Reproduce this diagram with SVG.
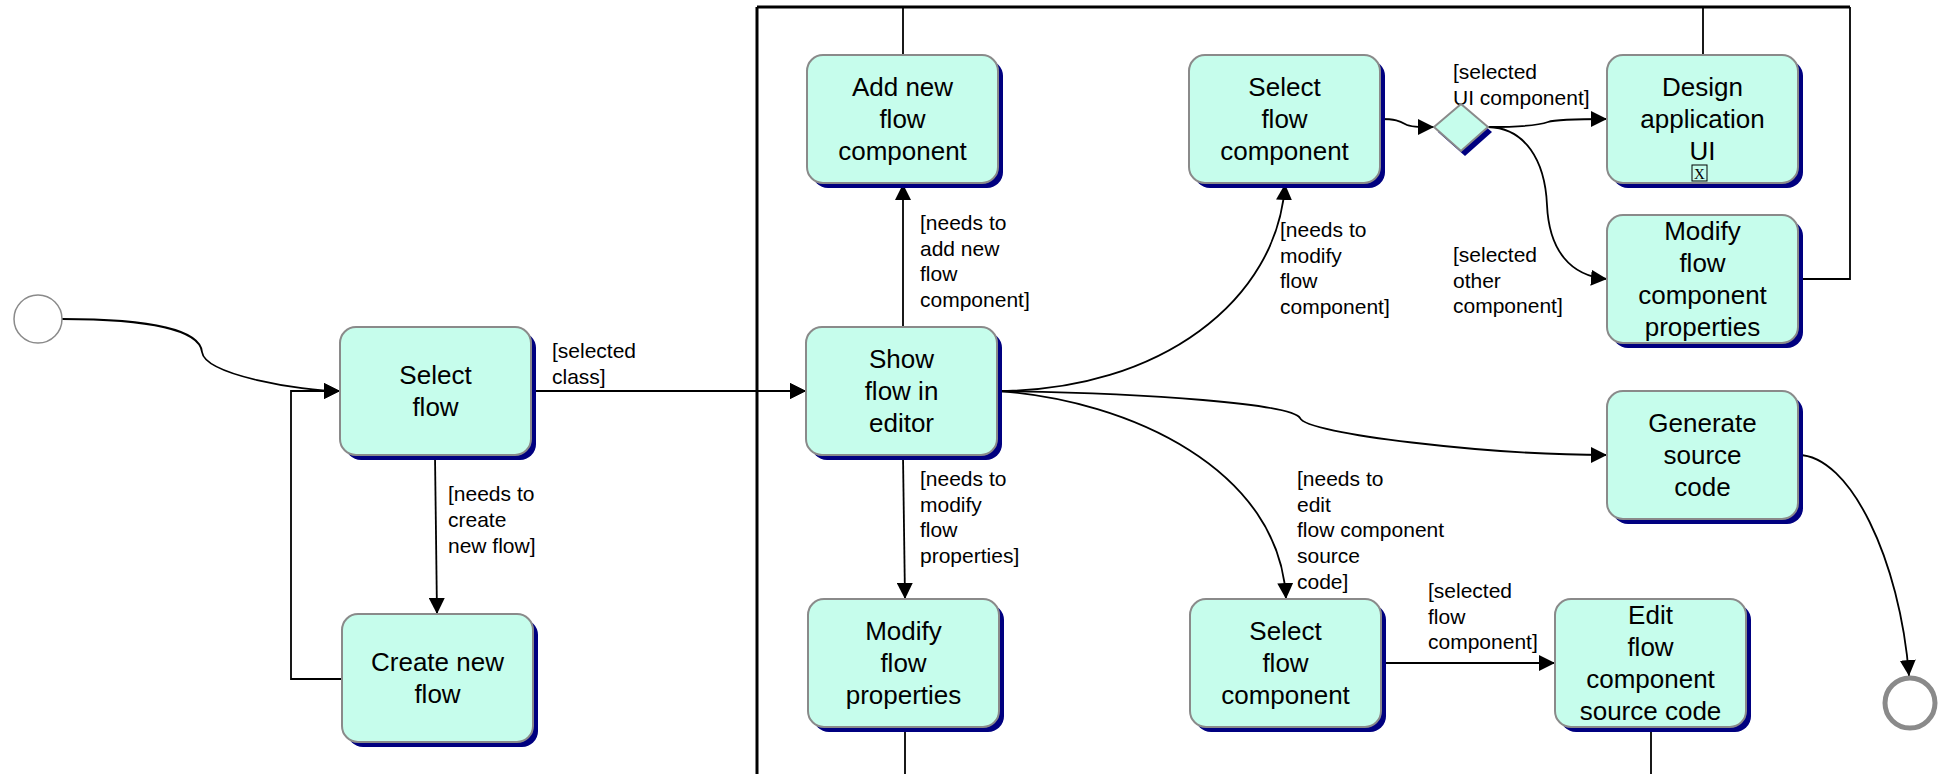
<svg xmlns="http://www.w3.org/2000/svg" width="1944" height="774" viewBox="0 0 1944 774">
<style>
.box{fill:#C6FDEC;stroke:#8A8A8A;stroke-width:2}
.shadow{fill:#000080}
.nt{font-family:"Liberation Sans",Arial,sans-serif;font-size:26px;text-anchor:middle;fill:#000}
.lb{font-family:"Liberation Sans",Arial,sans-serif;font-size:21px;fill:#000}
.edge{fill:none;stroke:#000;stroke-width:1.8}
.thick{fill:none;stroke:#000;stroke-width:3}
</style>
<defs>
<marker id="arr" markerUnits="userSpaceOnUse" markerWidth="16" markerHeight="16" refX="16" refY="8" orient="auto">
<path d="M0,0 L16,8 L0,16 Z" fill="#000"/>
</marker>
</defs>
<rect width="1944" height="774" fill="#fff"/>

<g id="connectors">
<path class="edge" d="M 62 319 C 150 319, 200 330, 202 352 C 205 375, 300 391, 340 391" marker-end="url(#arr)"/>
<path class="edge" d="M 435 456 L 437 614" marker-end="url(#arr)"/>
<path class="edge" d="M 342 679 L 291 679 L 291 391 L 340 391" marker-end="url(#arr)"/>
<path class="edge" d="M 531 391 L 806 391" marker-end="url(#arr)"/>
<path class="edge" d="M 903 327 L 903 184" marker-end="url(#arr)"/>
<path class="edge" d="M 903 456 L 905 599" marker-end="url(#arr)"/>
<path class="edge" d="M 997 391 C 1160 391, 1278 300, 1285 184" marker-end="url(#arr)"/>
<path class="edge" d="M 997 391 C 1150 393, 1292 404, 1300 418 C 1306 434, 1490 455, 1607 455" marker-end="url(#arr)"/>
<path class="edge" d="M 997 391 C 1130 400, 1280 470, 1286 599" marker-end="url(#arr)"/>
<path class="edge" d="M 1380 119 C 1395 119, 1400 121, 1405 124 C 1410 127, 1418 127, 1434 127" marker-end="url(#arr)"/>
<path class="edge" d="M 1488 127 C 1520 127, 1540 125, 1548 122 C 1556 119, 1580 119, 1607 119" marker-end="url(#arr)"/>
<path class="edge" d="M 1488 127 C 1525 128, 1545 160, 1547 205 C 1549 250, 1570 276, 1607 279" marker-end="url(#arr)"/>
<path class="edge" d="M 1798 279 L 1850 279 L 1850 7"/>
<path class="thick" d="M 1850 7 L 757 7"/>
<path class="thick" d="M 757 7 L 757 780"/>
<path class="edge" d="M 757 391 L 806 391" marker-end="url(#arr)"/>
<path class="edge" d="M 1703 55 L 1703 7"/>
<path class="edge" d="M 903 55 L 903 7"/>
<path class="edge" d="M 905 727 L 905 780"/>
<path class="edge" d="M 1651 727 L 1651 780"/>
<path class="edge" d="M 1382 663 L 1555 663" marker-end="url(#arr)"/>
<path class="edge" d="M 1798 455 C 1850 455, 1900 560, 1909 676" marker-end="url(#arr)"/>
<text class="lb" x="552" y="358">[selected</text>
<text class="lb" x="552" y="384">class]</text>
<text class="lb" x="448" y="501">[needs to</text>
<text class="lb" x="448" y="527">create</text>
<text class="lb" x="448" y="553">new flow]</text>
<text class="lb" x="920" y="230">[needs to</text>
<text class="lb" x="920" y="256">add new</text>
<text class="lb" x="920" y="281">flow</text>
<text class="lb" x="920" y="307">component]</text>
<text class="lb" x="920" y="486">[needs to</text>
<text class="lb" x="920" y="512">modify</text>
<text class="lb" x="920" y="537">flow</text>
<text class="lb" x="920" y="563">properties]</text>
<text class="lb" x="1280" y="237">[needs to</text>
<text class="lb" x="1280" y="263">modify</text>
<text class="lb" x="1280" y="288">flow</text>
<text class="lb" x="1280" y="314">component]</text>
<text class="lb" x="1453" y="79">[selected</text>
<text class="lb" x="1453" y="105">UI component]</text>
<text class="lb" x="1453" y="262">[selected</text>
<text class="lb" x="1453" y="288">other</text>
<text class="lb" x="1453" y="313">component]</text>
<text class="lb" x="1297" y="486">[needs to</text>
<text class="lb" x="1297" y="512">edit</text>
<text class="lb" x="1297" y="537">flow component</text>
<text class="lb" x="1297" y="563">source</text>
<text class="lb" x="1297" y="589">code]</text>
<text class="lb" x="1428" y="598">[selected</text>
<text class="lb" x="1428" y="624">flow</text>
<text class="lb" x="1428" y="649">component]</text>
</g>

<g id="initial"><circle cx="38" cy="319" r="24" fill="#fff" stroke="#8A8A8A" stroke-width="1.5"/></g>
<g id="final"><circle cx="1910" cy="703" r="25" fill="#fff" stroke="#8A8A8A" stroke-width="5"/></g>

<g id="select_flow">
<rect class="shadow" x="345" y="332" width="191" height="128" rx="16"/>
<rect class="box" x="340" y="327" width="191" height="128" rx="16"/>
<text class="nt" x="435.5" y="384">Select</text>
<text class="nt" x="435.5" y="416">flow</text>
</g>

<g id="create_new_flow">
<rect class="shadow" x="347" y="619" width="191" height="128" rx="16"/>
<rect class="box" x="342" y="614" width="191" height="128" rx="16"/>
<text class="nt" x="437.5" y="671">Create new</text>
<text class="nt" x="437.5" y="703">flow</text>
</g>

<g id="add_new_flow_component">
<rect class="shadow" x="812" y="60" width="191" height="128" rx="16"/>
<rect class="box" x="807" y="55" width="191" height="128" rx="16"/>
<text class="nt" x="902.5" y="96">Add new</text>
<text class="nt" x="902.5" y="128">flow</text>
<text class="nt" x="902.5" y="160">component</text>
</g>

<g id="show_flow_in_editor">
<rect class="shadow" x="811" y="332" width="191" height="128" rx="16"/>
<rect class="box" x="806" y="327" width="191" height="128" rx="16"/>
<text class="nt" x="901.5" y="368">Show</text>
<text class="nt" x="901.5" y="400">flow in</text>
<text class="nt" x="901.5" y="432">editor</text>
</g>

<g id="modify_flow_properties">
<rect class="shadow" x="813" y="604" width="191" height="128" rx="16"/>
<rect class="box" x="808" y="599" width="191" height="128" rx="16"/>
<text class="nt" x="903.5" y="640">Modify</text>
<text class="nt" x="903.5" y="672">flow</text>
<text class="nt" x="903.5" y="704">properties</text>
</g>

<g id="select_flow_component_top">
<rect class="shadow" x="1194" y="60" width="191" height="128" rx="16"/>
<rect class="box" x="1189" y="55" width="191" height="128" rx="16"/>
<text class="nt" x="1284.5" y="96">Select</text>
<text class="nt" x="1284.5" y="128">flow</text>
<text class="nt" x="1284.5" y="160">component</text>
</g>

<g id="decision">
<polygon class="shadow" points="1465,109 1492,132 1465,156 1438,132"/>
<polygon class="box" points="1461,104 1488,127 1461,151 1434,127"/>
</g>

<g id="design_application_ui">
<rect class="shadow" x="1612" y="60" width="191" height="128" rx="16"/>
<rect class="box" x="1607" y="55" width="191" height="128" rx="16"/>
<text class="nt" x="1702.5" y="96">Design</text>
<text class="nt" x="1702.5" y="128">application</text>
<text class="nt" x="1702.5" y="160">UI</text>
<rect x="1692" y="165" width="15" height="16" fill="none" stroke="#000" stroke-width="1"/>
<text x="1699.5" y="179" font-family="Liberation Serif, serif" font-size="15" text-anchor="middle">X</text>
</g>

<g id="modify_flow_component_properties">
<rect class="shadow" x="1612" y="220" width="191" height="128" rx="16"/>
<rect class="box" x="1607" y="215" width="191" height="128" rx="16"/>
<text class="nt" x="1702.5" y="240">Modify</text>
<text class="nt" x="1702.5" y="272">flow</text>
<text class="nt" x="1702.5" y="304">component</text>
<text class="nt" x="1702.5" y="336">properties</text>
</g>

<g id="generate_source_code">
<rect class="shadow" x="1612" y="396" width="191" height="128" rx="16"/>
<rect class="box" x="1607" y="391" width="191" height="128" rx="16"/>
<text class="nt" x="1702.5" y="432">Generate</text>
<text class="nt" x="1702.5" y="464">source</text>
<text class="nt" x="1702.5" y="496">code</text>
</g>

<g id="select_flow_component_bottom">
<rect class="shadow" x="1195" y="604" width="191" height="128" rx="16"/>
<rect class="box" x="1190" y="599" width="191" height="128" rx="16"/>
<text class="nt" x="1285.5" y="640">Select</text>
<text class="nt" x="1285.5" y="672">flow</text>
<text class="nt" x="1285.5" y="704">component</text>
</g>

<g id="edit_flow_component_source_code">
<rect class="shadow" x="1560" y="604" width="191" height="128" rx="16"/>
<rect class="box" x="1555" y="599" width="191" height="128" rx="16"/>
<text class="nt" x="1650.5" y="624">Edit</text>
<text class="nt" x="1650.5" y="656">flow</text>
<text class="nt" x="1650.5" y="688">component</text>
<text class="nt" x="1650.5" y="720">source code</text>
</g>
</svg>
